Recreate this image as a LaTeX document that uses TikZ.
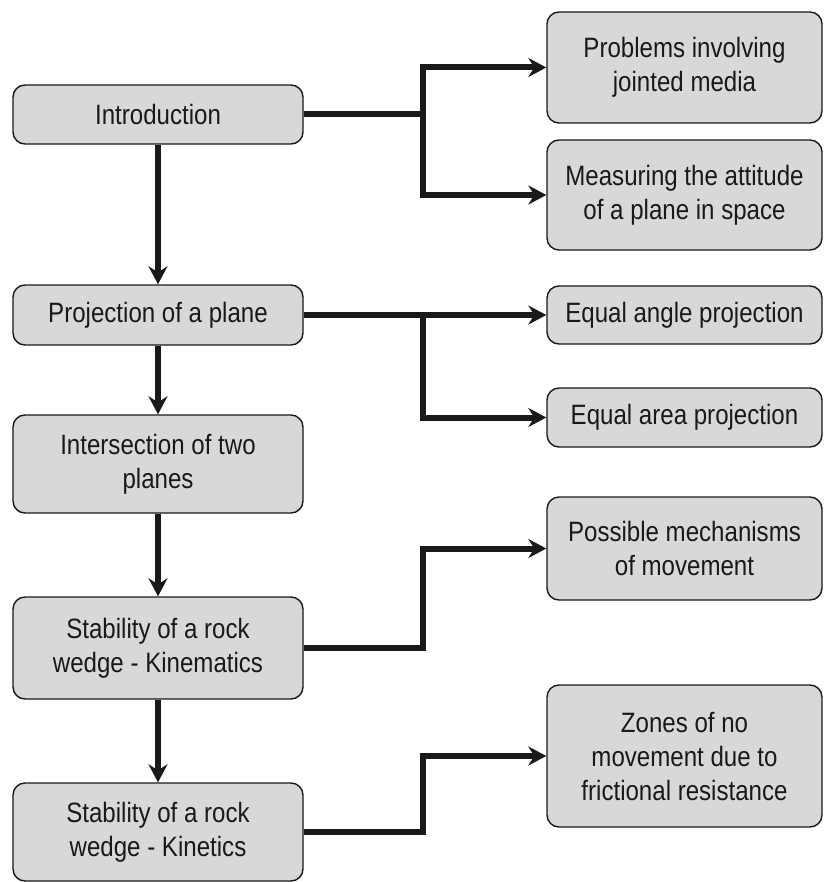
\documentclass[tikz,border=0pt]{standalone}
\usepackage{fontspec}
\setmainfont{Liberation Sans}[FakeStretch=0.86]
\usepackage{tikz}
\usetikzlibrary{arrows.meta, positioning, calc}
\definecolor{BoxGray}{RGB}{216,216,216}
\definecolor{InkBlack}{RGB}{25,25,25}

\begin{document}
\begin{tikzpicture}[x=0.5pt, y=-0.5pt,
		topic/.style={draw=InkBlack, line width=0.7pt, rounded corners=6pt, fill=BoxGray, text=InkBlack,
			minimum width=145pt, align=center, font=\fontsize{14}{17}\selectfont},
		sub/.style={topic, minimum width=137.5pt},
		link/.style={line width=3pt, InkBlack},
		arr/.style={link, -{Stealth[length=9pt, width=9.5pt, inset=3pt]}}]
	\useasboundingbox (0,0) rectangle (825,882);

	% main sequence
	\node[topic, minimum height=29.5pt] (intro) at (158,114.5) {Introduction};
	\node[topic, minimum height=30pt]   (proj)  at (158,315)   {Projection of a plane};
	\node[topic, minimum height=49pt]   (inter) at (158,464)   {Intersection of two\\ planes};
	\node[topic, minimum height=51pt]   (kinem) at (158,648)   {Stability of a rock\\ wedge - Kinematics};
	\node[topic, minimum height=49pt]   (kinet) at (158,832)   {Stability of a rock\\ wedge - Kinetics};

	% side topics
	\node[sub, minimum height=55.5pt] (prob)  at (684.5,67.5)  {Problems involving\\ jointed media};
	\node[sub, minimum height=55pt]   (meas)  at (684.5,195)   {Measuring the attitude\\ of a plane in space};
	\node[sub, minimum height=29pt]   (eqang) at (684.5,315)   {Equal angle projection};
	\node[sub, minimum height=29.5pt] (eqare) at (684.5,417.5) {Equal area projection};
	\node[sub, minimum height=51.5pt] (poss)  at (684.5,548.5) {Possible mechanisms\\ of movement};
	\node[sub, minimum height=71pt]   (zones) at (684.5,756)   {Zones of no\\ movement due to\\ frictional resistance};

	\coordinate (j1) at (423,114.5);
	\coordinate (j2) at (423,315);
	\coordinate (j3) at (423,648);
	\coordinate (j4) at (423,832);

	\draw[arr] (intro) -- (proj);
	\draw[arr] (proj) -- (inter);
	\draw[arr] (inter) -- (kinem);
	\draw[arr] (kinem) -- (kinet);

	\draw[link] (intro.east) -- (j1);
	\draw[arr] (j1) |- (prob.west);
	\draw[arr] (j1) |- (meas.west);
	\draw[arr] (proj.east) -- (eqang.west);
	\draw[arr] (j2) |- (eqare.west);
	\draw[arr] (kinem.east) -- (j3) |- (poss.west);
	\draw[arr] (kinet.east) -- (j4) |- (zones.west);
\end{tikzpicture}
\end{document}
